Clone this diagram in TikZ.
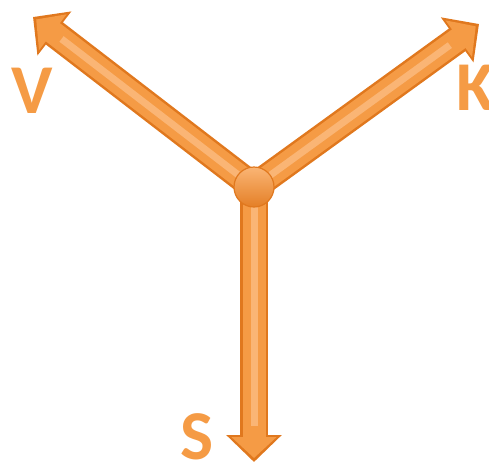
\documentclass[tikz,border=0pt]{standalone}
\usepackage{fontspec}
\setmainfont{Carlito}
\usetikzlibrary{arrows.meta}
\definecolor{axisorange}{HTML}{F59B45}
\definecolor{axisedge}{HTML}{E0781E}
\definecolor{axislight}{HTML}{FAB575}

\begin{document}
\begin{tikzpicture}[x=1pt,y=-1pt,
  shaftout/.style={axisedge,line width=28pt,-{Triangle[width=54pt,length=27pt]}},
  shaftin/.style={axisorange,line width=23pt,shorten >=4pt,-{Triangle[width=44pt,length=21pt]}},
  shine/.style={axislight,line width=7pt,shorten >=36pt},
  hubball/.style={circle,minimum size=40pt,inner sep=0pt,draw=axisedge,line width=1.2pt,
                  top color=axislight,bottom color=axisedge!80!axisorange},
  lab/.style={text=axisorange,font=\bfseries\fontsize{70}{70}\selectfont,inner sep=0pt}]
  \useasboundingbox (0,0) rectangle (489,464);
  \coordinate (hub) at (254,187);
  \coordinate (tipV) at (33,17);
  \coordinate (tipK) at (479,24);
  \coordinate (tipS) at (254,462);
  \draw[shaftout] (hub) -- (tipV);
  \draw[shaftout] (hub) -- (tipK);
  \draw[shaftout] (hub) -- (tipS);
  \draw[shaftin] (hub) -- (tipV);
  \draw[shaftin] (hub) -- (tipK);
  \draw[shaftin] (hub) -- (tipS);
  \draw[shine] (hub) -- (tipV);
  \draw[shine] (hub) -- (tipK);
  \draw[shine] (hub) -- (tipS);
  \node[hubball] (ball) at (hub) {};
  \node[lab] (labV) at (32,91) {V};
  \node[lab] (labK) at (476,88) {K};
  \node[lab] (labS) at (197,437) {S};
\end{tikzpicture}
\end{document}
